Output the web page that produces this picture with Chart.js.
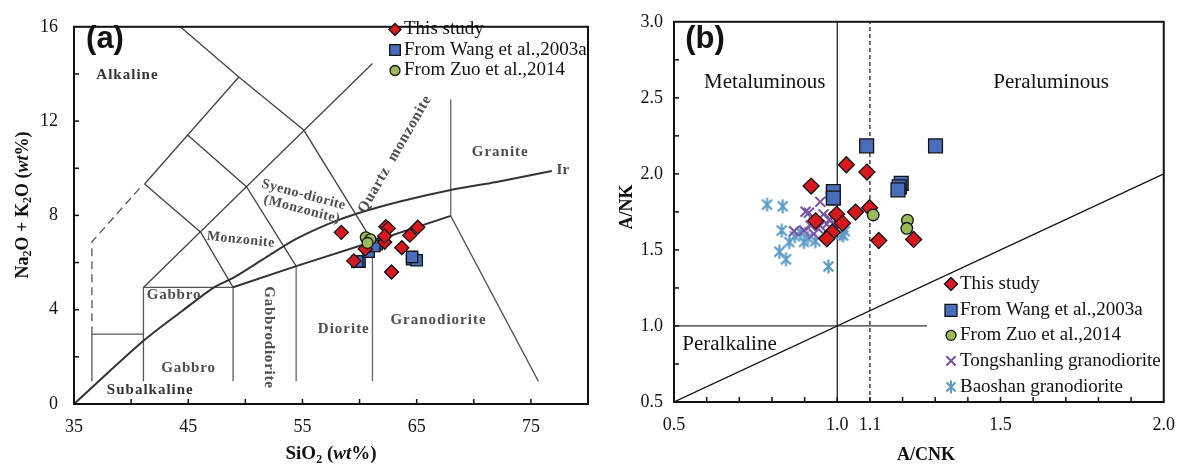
<!DOCTYPE html>
<html>
<head>
<meta charset="utf-8">
<script src="https://cdn.jsdelivr.net/npm/chart.js@4.4.1/dist/chart.umd.min.js"></script>
<style>
body { margin: 0; background: #fff; }
#wrapA { position: absolute; left: 0; top: 0; width: 600px; height: 468px; }
#wrapB { position: absolute; left: 600px; top: 0; width: 587px; height: 468px; }
</style>
</head>
<body>
<div id="wrapA"><canvas id="chartA"></canvas></div>
<div id="wrapB"><canvas id="chartB"></canvas></div>
<script>
var SERIF = '"Liberation Serif", "Times New Roman", serif';
var SANS = '"Liberation Sans", Arial, sans-serif';

// ---- (a) TAS diagram: SiO2 vs Na2O+K2O ----
var tasThisStudy = [[58.4, 7.28], [62.3, 7.52], [62.5, 7.45], [65.1, 7.5], [64.4, 7.16], [63.7, 6.63],
    [62.8, 5.6], [62.2, 6.86], [62.2, 7.12], [59.5, 6.07], [60.5, 6.58]];
var tasWang = [[60.0, 6.04], [59.8, 6.04], [60.8, 6.46], [61.5, 6.78], [61.3, 6.7], [64.6, 6.14], [65.0, 6.1], [64.6, 6.24]];
var tasZuo = [[60.55, 7.07], [60.95, 6.98], [60.7, 6.83]];

// field boundaries of the plutonic TAS diagram
var lineTop = [[44.3, 16], [49.43, 13.87], [55.11, 11.62], [61.13, 6.9]];
var lineDiagA = [[41.18, 9.33], [49.43, 13.87]];
var lineDiagB = [[41.1, 4.95], [61.13, 14.44]];
var lineMonzA = [[44.92, 11.42], [50.1, 9.22], [54.45, 5.85]];
var lineMonzB = [[41.18, 9.33], [46.09, 7.29], [48.93, 4.95]];
var lineDashed = [[36.57, 2.96], [36.57, 6.88], [40.75, 9.15]];
var lineFoot = [[36.57, 0.96], [36.57, 2.96], [41.08, 2.96]];
var lineGabbro = [[41.08, 0.96], [41.08, 4.95], [48.93, 4.95], [48.93, 0.96]];
var lineSubalk = [[48.93, 4.95], [54.45, 5.85], [61.13, 6.88], [67.98, 7.98]];
var lineGraniteR = [[67.98, 7.98], [75.66, 0.96]];
var lineV54 = [[54.45, 5.85], [54.45, 0.96]];
var lineV61 = [[61.13, 6.88], [61.13, 0.96]];
var lineV68 = [[67.98, 12.93], [67.98, 7.98]];
var irvine = [[35, 0], [41.08, 2.68], [44.59, 3.99], [47.26, 4.95], [48.93, 5.35], [51.94, 6.26], [54.45, 7.0],
    [57.29, 7.64], [59.79, 8.08], [63.63, 8.6], [67.98, 9.08], [71.99, 9.42], [76.83, 9.88]];

// ---- (b) A/CNK vs A/NK ----
var acnkThisStudy = [[0.920, 1.920], [1.028, 2.060], [1.091, 2.012], [1.056, 1.749], [1.099, 1.777], [0.998, 1.734],
    [1.016, 1.676], [0.934, 1.691], [0.985, 1.616], [0.968, 1.573], [1.127, 1.562], [1.234, 1.569]];
var acnkWang = [[1.090, 2.184], [1.301, 2.184], [0.988, 1.884], [0.988, 1.841], [1.196, 1.938], [1.190, 1.915], [1.186, 1.895]];
var acnkZuo = [[1.110, 1.730], [1.215, 1.695], [1.213, 1.642]];
var acnkTongshanling = [[0.948, 1.816], [0.903, 1.751], [0.913, 1.745], [0.928, 1.680], [0.958, 1.734], [0.978, 1.702],
    [0.868, 1.623], [0.898, 1.627], [0.918, 1.660], [0.948, 1.659], [0.958, 1.605], [0.928, 1.605], [0.968, 1.670],
    [0.988, 1.670], [1.003, 1.713]];
var acnkBaoshan = [[0.785, 1.798], [0.833, 1.787], [0.830, 1.627], [0.853, 1.552], [0.823, 1.488], [0.843, 1.438],
    [0.888, 1.616], [0.898, 1.552], [0.933, 1.558], [0.973, 1.391], [1.013, 1.605], [1.023, 1.623], [1.018, 1.595],
    [0.870, 1.590], [0.910, 1.580]];

var lineMetal = [[1.0, 0.5], [1.0, 3.0]];
var linePeral = [[1.1, 0.5], [1.1, 3.0]];
var lineAlk = [[0.5, 1.0], [1.275, 1.0]];
var lineOneToOne = [[0.5, 0.5], [2.0, 2.0]];

var tasXLabels = [35, 45, 55, 65, 75];
var tasYLabels = [0, 4, 8, 12, 16];
var acnkXLabels = [0.5, 1.0, 1.1, 1.5, 2.0];

var RED = '#d7191f', BLUE = '#4a6dbb', GREEN = '#9bbb59', PURPLE = '#7a52a3', LBLUE = '#5e9cc6';

function toPts(arr) {
    return arr.map(function (p) { return { x: p[0], y: p[1] }; });
}

function pointSet(label, arr, style, radius, fill, stroke, width) {
    return {
        label: label, data: toPts(arr), showLine: false,
        pointStyle: style, pointRadius: radius, pointHoverRadius: radius,
        backgroundColor: fill, borderColor: stroke, borderWidth: width
    };
}

function lineSet(arr, color, width, dash, tension) {
    return {
        data: toPts(arr), showLine: true, pointRadius: 0, pointHoverRadius: 0,
        borderColor: color, borderWidth: width, borderDash: dash || [], tension: tension || 0, fill: false
    };
}

function axis(min, max, step, labelFn, fitSize, isX, pad) {
    return {
        type: 'linear', min: min, max: max,
        grid: { display: false, drawTicks: false },
        border: { display: false },
        ticks: {
            stepSize: step, autoSkip: false, maxRotation: 0, padding: pad, color: '#111',
            font: { family: SERIF, size: 18 }, callback: labelFn
        },
        afterFit: function (s) { if (isX) { s.height = fitSize; } else { s.width = fitSize; } }
    };
}

function drawMarker(ctx, style, x, y, r, fill, stroke, lw) {
    ctx.save();
    ctx.fillStyle = fill; ctx.strokeStyle = stroke; ctx.lineWidth = lw;
    ctx.beginPath();
    if (style === 'rectRot') {
        ctx.moveTo(x - r, y); ctx.lineTo(x, y - r); ctx.lineTo(x + r, y); ctx.lineTo(x, y + r); ctx.closePath();
        ctx.fill(); ctx.stroke();
    } else if (style === 'rect') {
        var h = r * Math.SQRT1_2;
        ctx.rect(x - h, y - h, 2 * h, 2 * h); ctx.fill(); ctx.stroke();
    } else if (style === 'circle') {
        ctx.arc(x, y, r, 0, Math.PI * 2); ctx.fill(); ctx.stroke();
    } else {
        var d = r * Math.SQRT1_2;
        ctx.moveTo(x - d, y - d); ctx.lineTo(x + d, y + d);
        ctx.moveTo(x - d, y + d); ctx.lineTo(x + d, y - d);
        if (style === 'asterisk') { ctx.moveTo(x, y - r); ctx.lineTo(x, y + r); }
        ctx.stroke();
    }
    ctx.restore();
}

// Excel style asterisk (X plus a vertical bar) used as point image
function asteriskImage(r, color, lw) {
    var c = document.createElement('canvas');
    var s = Math.ceil(2 * r + lw + 2);
    c.width = s; c.height = s;
    drawMarker(c.getContext('2d'), 'asterisk', s / 2, s / 2, r, color, color, lw);
    return c;
}

// text made of pieces: [text, kind] kind = 'b', 'bi' or 'sub'
function drawRich(ctx, parts, x, y, size) {
    function font(p) {
        if (p[1] === 'sub') return 'bold ' + Math.round(size * 0.65) + 'px ' + SERIF;
        if (p[1] === 'bi') return 'italic bold ' + size + 'px ' + SERIF;
        return 'bold ' + size + 'px ' + SERIF;
    }
    var total = 0;
    parts.forEach(function (p) { ctx.font = font(p); total += ctx.measureText(p[0]).width; });
    var cx = x - total / 2;
    ctx.textAlign = 'left';
    ctx.textBaseline = 'middle';
    parts.forEach(function (p) {
        ctx.font = font(p);
        ctx.fillText(p[0], cx, p[1] === 'sub' ? y + size * 0.3 : y);
        cx += ctx.measureText(p[0]).width;
    });
}

var framePlugin = {
    id: 'frame',
    afterDatasetsDraw: function (chart) {
        var a = chart.chartArea, ctx = chart.ctx;
        var xs = chart.scales.x, ys = chart.scales.y;
        ctx.save();
        ctx.strokeStyle = '#111';
        ctx.lineWidth = 1.5;
        xs.ticks.forEach(function (t) {
            var px = xs.getPixelForValue(t.value);
            if (px <= a.left + 1 || px >= a.right - 1) return;
            ctx.beginPath(); ctx.moveTo(px, a.bottom); ctx.lineTo(px, a.bottom - 5); ctx.stroke();
        });
        ys.ticks.forEach(function (t) {
            var py = ys.getPixelForValue(t.value);
            if (py <= a.top + 1 || py >= a.bottom - 1) return;
            ctx.beginPath(); ctx.moveTo(a.left, py); ctx.lineTo(a.left + 5, py); ctx.stroke();
        });
        ctx.lineWidth = 2;
        ctx.strokeRect(a.left, a.top, a.right - a.left, a.bottom - a.top);
        ctx.restore();
    }
};

var annotPlugin = {
    id: 'annot',
    afterDraw: function (chart) {
        var o = chart.options.plugins.annot;
        var ctx = chart.ctx, a = chart.chartArea;
        var xs = chart.scales.x, ys = chart.scales.y;
        ctx.save();
        ctx.fillStyle = '#111';
        ctx.font = 'bold 31px ' + SANS;
        ctx.textAlign = 'center'; ctx.textBaseline = 'middle';
        ctx.fillText(o.panel, a.left + 31, 39);

        o.labels.forEach(function (l) {
            ctx.save();
            ctx.translate(xs.getPixelForValue(l.x), ys.getPixelForValue(l.y));
            ctx.rotate((l.rot || 0) * Math.PI / 180);
            ctx.font = l.font;
            ctx.fillStyle = l.color;
            if ('letterSpacing' in ctx) ctx.letterSpacing = (l.sp || 0) + 'px';
            ctx.textAlign = 'center'; ctx.textBaseline = 'middle';
            ctx.fillText(l.text, 0, 0);
            ctx.restore();
        });

        o.legend.forEach(function (it, i) {
            var y = o.legendY[i];
            drawMarker(ctx, it.style, o.legendX, y, it.r, it.fill, it.stroke, it.lw);
            ctx.fillStyle = '#111';
            ctx.font = o.legendFont;
            ctx.textAlign = 'left'; ctx.textBaseline = 'middle';
            ctx.fillText(it.text, o.legendX + 9, y);
        });

        ctx.fillStyle = '#111';
        ctx.save();
        ctx.translate(o.yTitle.x, o.yTitle.y);
        ctx.rotate(-Math.PI / 2);
        drawRich(ctx, o.yTitle.parts, 0, 0, o.yTitle.size);
        ctx.restore();
        drawRich(ctx, o.xTitle.parts, o.xTitle.x, o.xTitle.y, o.xTitle.size);
        ctx.restore();
    }
};

var fieldBold = 'bold 15px ' + SERIF;
var fieldFont = 'bold 14px ' + SERIF;
var GREY = '#4d4d4d';

new Chart(document.getElementById('chartA'), {
    type: 'scatter',
    data: {
        datasets: [
            pointSet('From Zuo et al.,2014', tasZuo, 'circle', 5.5, GREEN, '#111', 1.3),
            pointSet('This study', tasThisStudy, 'rectRot', 7, RED, '#111', 1.3),
            pointSet('From Wang et al.,2003a', tasWang, 'rect', 8, BLUE, '#111', 1.3),
            lineSet(irvine, '#333', 2, null, 0.3),
            lineSet(lineSubalk, '#333', 2),
            lineSet(lineTop, '#444', 1.3),
            lineSet(lineDiagA, '#444', 1.3),
            lineSet(lineDiagB, '#444', 1.3),
            lineSet(lineMonzA, '#444', 1.3),
            lineSet(lineMonzB, '#444', 1.3),
            lineSet(lineDashed, '#555', 1.3, [8, 5]),
            lineSet(lineFoot, '#555', 1.3),
            lineSet(lineGabbro, '#555', 1.3),
            lineSet(lineGraniteR, '#555', 1.3),
            lineSet(lineV54, '#666', 1.3),
            lineSet(lineV61, '#666', 1.3),
            lineSet(lineV68, '#666', 1.3)
        ]
    },
    options: {
        responsive: true, maintainAspectRatio: false, animation: false, events: [],
        layout: { padding: { top: 17, right: 10, left: 0, bottom: 0 } },
        scales: {
            x: axis(35, 80, 5, function (v) { return tasXLabels.indexOf(v) >= 0 ? String(v) : ''; }, 64, true, 12),
            y: axis(0, 16, 2, function (v) { return tasYLabels.indexOf(v) >= 0 ? String(v) : ''; }, 74, false, 16)
        },
        plugins: {
            legend: { display: false }, tooltip: { enabled: false },
            annot: {
                panel: '(a)',
                labels: [
                    { text: 'Alkaline', x: 39.68, y: 13.96, font: fieldBold, color: '#333', sp: 1 },
                    { text: 'Subalkaline', x: 41.68, y: 0.59, font: fieldBold, color: '#333', sp: 1 },
                    { text: 'Gabbro', x: 43.75, y: 4.61, font: fieldBold, color: GREY, sp: 0.8 },
                    { text: 'Gabbro', x: 45.02, y: 1.51, font: fieldBold, color: GREY, sp: 0.8 },
                    { text: 'Gabbrodiorite', x: 52.04, y: 2.82, rot: 90, font: fieldBold, color: GREY, sp: 0.8 },
                    { text: 'Monzonite', x: 49.6, y: 6.97, rot: 6, font: fieldFont, color: GREY, sp: 0.5 },
                    { text: 'Syeno-diorite', x: 55.11, y: 8.87, rot: 15, font: fieldFont, color: GREY, sp: 0.5 },
                    { text: '(Monzonite)', x: 54.95, y: 8.25, rot: 15, font: fieldFont, color: GREY, sp: 0.5 },
                    { text: 'Quartz  monzonite', x: 63.1, y: 10.6, rot: -60, font: fieldBold, color: GREY, sp: 0.8 },
                    { text: 'Granite', x: 72.32, y: 10.7, font: fieldBold, color: GREY, sp: 1 },
                    { text: 'Ir', x: 77.8, y: 9.9, font: fieldBold, color: GREY, sp: 0 },
                    { text: 'Diorite', x: 58.62, y: 3.16, font: fieldBold, color: GREY, sp: 1 },
                    { text: 'Granodiorite', x: 66.91, y: 3.54, font: fieldBold, color: GREY, sp: 1 }
                ],
                legendX: 395, legendY: [29.5, 50, 70.5], legendFont: '19px ' + SERIF,
                legend: [
                    { text: 'This study', style: 'rectRot', r: 6, fill: RED, stroke: '#111', lw: 1.3 },
                    { text: 'From Wang et al.,2003a', style: 'rect', r: 7.5, fill: BLUE, stroke: '#111', lw: 1.3 },
                    { text: 'From Zuo et al.,2014', style: 'circle', r: 5, fill: GREEN, stroke: '#111', lw: 1.3 }
                ],
                yTitle: { x: 23, y: 205, size: 18, parts: [['Na', 'b'], ['2', 'sub'], ['O + K', 'b'], ['2', 'sub'], ['O (', 'b'], ['wt', 'bi'], ['%)', 'b']] },
                xTitle: { x: 331, y: 454, size: 19, parts: [['SiO', 'b'], ['2', 'sub'], [' (', 'b'], ['wt', 'bi'], ['%)', 'b']] }
            }
        }
    },
    plugins: [framePlugin, annotPlugin]
});

new Chart(document.getElementById('chartB'), {
    type: 'scatter',
    data: {
        datasets: [
            pointSet('From Zuo et al.,2014', acnkZuo, 'circle', 5.8, GREEN, '#111', 1.3),
            pointSet('This study', acnkThisStudy, 'rectRot', 8, RED, '#111', 1.3),
            pointSet('From Wang et al.,2003a', acnkWang, 'rect', 9.8, BLUE, '#111', 1.3),
            pointSet('Tongshanling granodiorite', acnkTongshanling, 'crossRot', 7, PURPLE, PURPLE, 2),
            pointSet('Baoshan granodiorite', acnkBaoshan, asteriskImage(7, LBLUE, 2.2), 7, LBLUE, LBLUE, 2),
            lineSet(lineMetal, '#111', 1.2),
            lineSet(linePeral, '#111', 1.2, [4, 3]),
            lineSet(lineAlk, '#333', 1.2),
            lineSet(lineOneToOne, '#111', 1.2)
        ]
    },
    options: {
        responsive: true, maintainAspectRatio: false, animation: false, events: [],
        layout: { padding: { top: 13, right: 13, left: 0, bottom: 0 } },
        scales: {
            x: axis(0.5, 2.0, 0.1, function (v) {
                var r = Math.round(v * 10) / 10;
                return acnkXLabels.indexOf(r) >= 0 ? r.toFixed(1) : '';
            }, 66, true, 12),
            y: axis(0.5, 3.0, 0.25, function (v) {
                var r = Math.round(v * 100) / 100;
                return Math.abs(r * 2 - Math.round(r * 2)) < 1e-6 ? r.toFixed(1) : '';
            }, 74, false, 11)
        },
        plugins: {
            legend: { display: false }, tooltip: { enabled: false },
            annot: {
                panel: '(b)',
                labels: [
                    { text: 'Metaluminous', x: 0.778, y: 2.604, font: '21px ' + SERIF, color: '#111' },
                    { text: 'Peraluminous', x: 1.655, y: 2.600, font: '21px ' + SERIF, color: '#111' },
                    { text: 'Peralkaline', x: 0.670, y: 0.875, font: '21px ' + SERIF, color: '#111' }
                ],
                legendX: 351, legendY: [284, 310.4, 335.3, 360.9, 386.9], legendFont: '19px ' + SERIF,
                legend: [
                    { text: 'This study', style: 'rectRot', r: 6.5, fill: RED, stroke: '#111', lw: 1.3 },
                    { text: 'From Wang et al.,2003a', style: 'rect', r: 8.5, fill: BLUE, stroke: '#111', lw: 1.3 },
                    { text: 'From Zuo et al.,2014', style: 'circle', r: 5, fill: GREEN, stroke: '#111', lw: 1.3 },
                    { text: 'Tongshanling granodiorite', style: 'crossRot', r: 6.5, fill: PURPLE, stroke: PURPLE, lw: 2 },
                    { text: 'Baoshan granodiorite', style: 'asterisk', r: 6.5, fill: LBLUE, stroke: LBLUE, lw: 2 }
                ],
                yTitle: { x: 27, y: 207, size: 18, parts: [['A/NK', 'b']] },
                xTitle: { x: 326, y: 455, size: 18, parts: [['A/CNK', 'b']] }
            }
        }
    },
    plugins: [framePlugin, annotPlugin]
});
</script>
</body>
</html>
